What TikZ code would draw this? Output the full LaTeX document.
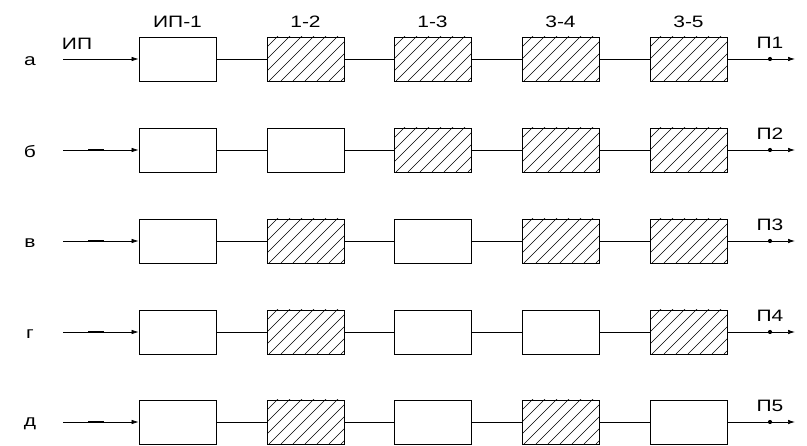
\documentclass[tikz,border=0pt]{standalone}
\usepackage{fontspec}
\setmainfont{Liberation Sans}[FakeStretch=1.27]
\usetikzlibrary{arrows.meta}
\begin{document}
\begin{tikzpicture}[x=1pt,y=-1pt,
  every node/.style={font=\fontsize{16.5}{18}\selectfont, inner sep=0pt},
  blk/.style={draw, line width=0.75pt, minimum width=77pt, minimum height=44pt},
  hatched/.style={blk, path picture={
      \foreach \i in {-58,-46,...,80}
        \draw[line width=0.65pt] ([xshift=\i pt]path picture bounding box.south west) -- ++(60pt,60pt);}},
  wire/.style={line width=0.7pt},
  arr/.style={wire, -{Latex[length=7pt,width=4.5pt]}},
  dot/.style={circle, fill, minimum size=4.2pt},
  thick seg/.style={line width=1.3pt}
]
\useasboundingbox (0,0) rectangle (807,446);

% column headers
\node (h1) at (177.5,22) {ИП-1};
\node (h2) at (305.5,22) {1-2};
\node (h3) at (432.5,22) {1-3};
\node (h4) at (560.5,22) {3-4};
\node (h5) at (688.5,22) {3-5};

% rows: name / y / label / styles of boxes 2-5 / output number
\foreach \r/\y/\lab/\sA/\sB/\sC/\sD/\n in {
  a/59/а/hatched/hatched/hatched/hatched/1,
  b/150/б/blk/hatched/hatched/hatched/2,
  c/241/в/hatched/blk/hatched/hatched/3,
  d/332/г/hatched/blk/blk/hatched/4,
  e/422/д/hatched/blk/hatched/blk/5}{
  \node (l\r) at (30,\y+2) {\lab};
  \node[blk] (\r1) at (177.5,\y) {};
  \node[\sA] (\r2) at (305.5,\y) {};
  \node[\sB] (\r3) at (432.5,\y) {};
  \node[\sC] (\r4) at (560.5,\y) {};
  \node[\sD] (\r5) at (688.5,\y) {};
  \coordinate (in\r) at (63,\y);
  \coordinate (out\r) at (795,\y);
  \node[dot] (p\r) at (770,\y) {};
  \node (pl\r) at (770,\y-16) {П\n};
  \draw[arr] (in\r) -- (\r1);
  \draw[wire] (\r1) -- (\r2);
  \draw[wire] (\r2) -- (\r3);
  \draw[wire] (\r3) -- (\r4);
  \draw[wire] (\r4) -- (\r5);
  \draw[arr] (\r5) -- (out\r);
}
\node (ip) at (77,44) {ИП};
\foreach \r/\y in {b/150,c/241,d/332,e/422}{
  \coordinate (s\r) at (88,\y);
  \coordinate (t\r) at (104,\y);
  \draw[thick seg] (s\r) -- (t\r);
}
\end{tikzpicture}
\end{document}
